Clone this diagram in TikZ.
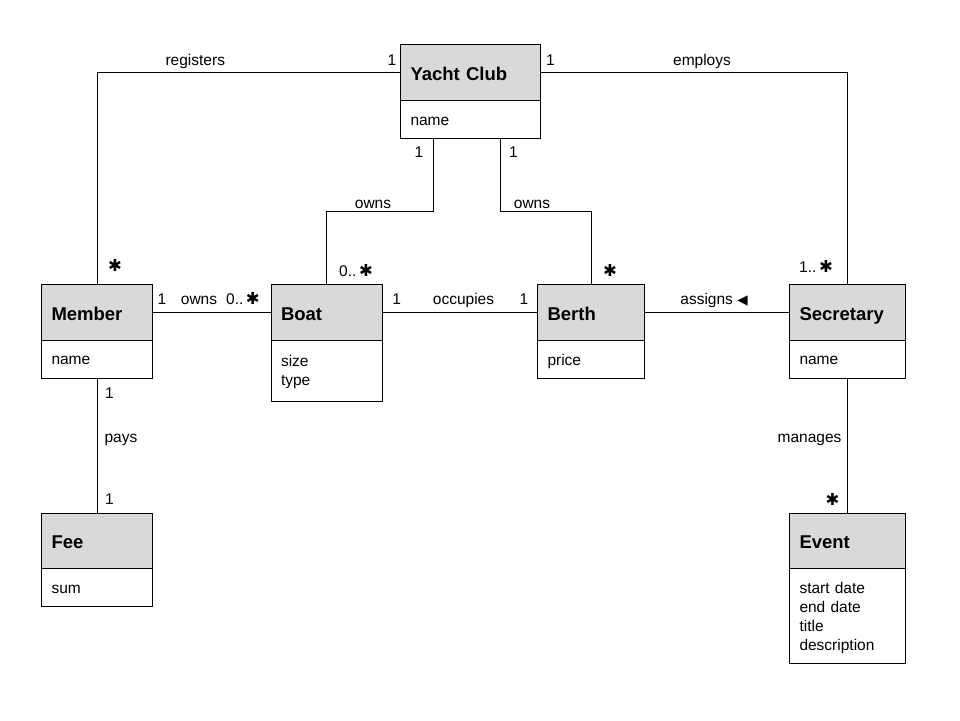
\documentclass[tikz,border=0pt]{standalone}
\usepackage{fontspec}
\setmainfont{Liberation Sans}
\newfontfamily\symfont{DejaVu Sans}
\definecolor{hdrgray}{RGB}{217,217,217}
\newcommand\fl{\rule{0pt}{15.3pt}}
\newcommand\lastl{\rule[-3.7pt]{0pt}{3.7pt}}
\newcommand\mast{{\symfont\fontsize{16.5}{19}\selectfont ✱}}
\newcommand\larr{{\symfont\fontsize{13.5}{15}\selectfont ◀}}
\tikzset{
  hdrbox/.style={draw=black, line width=1pt, fill=hdrgray, anchor=north west,
    inner xsep=10pt, inner ysep=0pt, outer sep=0pt, align=left,
    font=\fontsize{18.5}{22}\selectfont\bfseries, text height=15.5pt, text depth=0pt},
  bodybox/.style={draw=black, line width=1pt, fill=white, anchor=north west,
    inner xsep=10pt, inner ysep=0pt, outer sep=0pt, align=left,
    font=\fontsize{15.5}{19}\selectfont},
  conn/.style={draw=black, line width=1pt},
  lbl/.style={font=\fontsize{15.5}{19}\selectfont, inner sep=0pt, anchor=base},
}
\newcommand\umlclass[8]{%
  \pgfmathsetmacro\tw{#4-20}%
  \node[hdrbox, minimum width=#4pt, minimum height=#5pt, text width=\tw pt] (#1) at (#2,#3) {#7};
  \node[bodybox, minimum width=#4pt, minimum height=#6pt, text width=\tw pt] (#1b) at (#1.south west) {#8};
}
\begin{document}
\begin{tikzpicture}[x=1pt,y=-1pt]
\useasboundingbox (0,0) rectangle (960,720);
\fill[white] (0,0) rectangle (960,720);

\coordinate (ycl) at (433.3,138);
\coordinate (ycr) at (500.5,138);

\umlclass{yc}{400.5}{44.3}{140}{56}{38}{Yacht Club}{\fl name\lastl}
\umlclass{mem}{41.5}{284.5}{111}{55.5}{38}{Member}{\fl name\lastl}
\umlclass{boat}{271}{284.5}{111}{55.5}{61}{Boat}{\fl size\\type\lastl}
\umlclass{berth}{537.5}{284.5}{107}{55.5}{38.5}{Berth}{\fl price\lastl}
\umlclass{sec}{789.5}{284.5}{116}{55.5}{38}{Secretary}{\fl name\lastl}
\umlclass{fee}{41.5}{513.3}{111}{55}{38}{Fee}{\fl sum\lastl}
\umlclass{event}{789.5}{513.3}{116}{55}{95.5}{Event}{\fl start date\\end date\\title\\description\lastl}

\draw[conn] (yc.west) -| (mem.north);
\draw[conn] (yc.east) -| (sec.north);
\draw[conn] (ycb.south -| ycl) -- ++(0,73) -| (boat.north);
\draw[conn] (ycb.south -| ycr) -- ++(0,73) -| (berth.north);
\draw[conn] (mem.east) -- (boat.west);
\draw[conn] (boat.east) -- (berth.west);
\draw[conn] (berth.east) -- (sec.west);
\draw[conn] (memb.south) -- (fee.north);
\draw[conn] (secb.south) -- (event.north);

% labels
\node[lbl] (l1) at (195.3,65) {registers};
\node[lbl] (l2) at (392,65) {1};
\node[lbl] (l3) at (550.5,65) {1};
\node[lbl] (l4) at (702,65) {employs};
\node[lbl] (l5) at (419,157) {1};
\node[lbl] (l6) at (513.5,157) {1};
\node[lbl] (l7) at (373,208) {owns};
\node[lbl] (l8) at (532,208) {owns};
\node[lbl] (l9) at (115,271) {\mast};
\node[lbl] (l10) at (356,276) {0..\,\mast};
\node[lbl] (l11) at (610,276) {\mast};
\node[lbl] (l12) at (816,272) {1..\,\mast};
\node[lbl] (l13) at (162,304) {1};
\node[lbl] (l14) at (199,304) {owns};
\node[lbl] (l15) at (243,304) {0..\,\mast};
\node[lbl] (l16) at (396.7,304) {1};
\node[lbl] (l17) at (463.5,304) {occupies};
\node[lbl] (l18) at (524,304) {1};
\node[lbl] (l19) at (714,304) {assigns \larr};
\node[lbl] (l20) at (109.5,398) {1};
\node[lbl] (l21) at (121,442.7) {pays};
\node[lbl] (l22) at (109.5,504) {1};
\node[lbl] (l23) at (809.5,442.7) {manages};
\node[lbl] (l24) at (832.5,505) {\mast};
\end{tikzpicture}
\end{document}
